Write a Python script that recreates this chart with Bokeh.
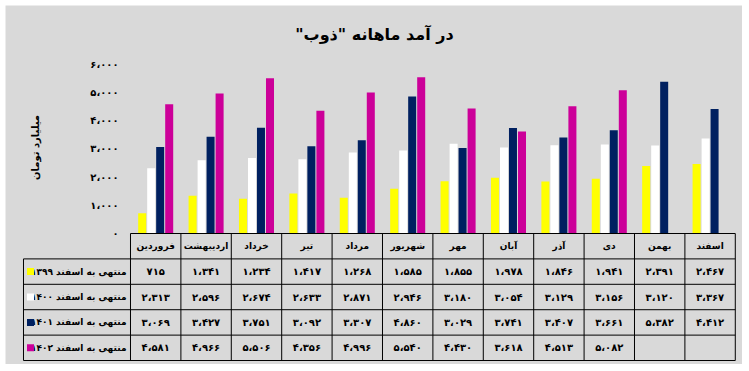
from math import pi
from bokeh.plotting import figure
from bokeh.models import Range1d
from bokeh.core.properties import value
from bokeh.embed import file_html
from bokeh.resources import INLINE

# ---------------- data ----------------
months = ["فروردین", "اردیبهشت", "خرداد", "تیر", "مرداد", "شهریور",
          "مهر", "آبان", "آذر", "دی", "بهمن", "اسفند"]
series_names = ["منتهی به اسفند ۱۳۹۹", "منتهی به اسفند ۱۴۰۰",
                "منتهی به اسفند ۱۴۰۱", "منتهی به اسفند ۱۴۰۲"]
s1399 = [715, 1341, 1234, 1417, 1268, 1585, 1855, 1978, 1846, 1941, 2391, 2467]
s1400 = [2313, 2596, 2674, 2633, 2871, 2946, 3180, 3054, 3129, 3156, 3120, 3367]
s1401 = [3069, 3427, 3751, 3092, 3307, 4860, 3029, 3741, 3407, 3661, 5382, 4412]
s1402 = [4581, 4966, 5506, 4356, 4996, 5540, 4430, 3618, 4513, 5082, None, None]
y_ticks = [0, 1000, 2000, 3000, 4000, 5000, 6000]
y_tick_labels = ["۰", "۱،۰۰۰", "۲،۰۰۰", "۳،۰۰۰", "۴،۰۰۰", "۵،۰۰۰", "۶،۰۰۰"]
title_text = "\u200fدر آمد ماهانه \"ذوب\"\u200f"
y_title = "میلیارد تومان"

series = [s1399, s1400, s1401, s1402]
colors = ["#ffff00", "#ffffff", "#002060", "#cc0099"]

FONT = value("DejaVu Sans")
BG = "#d9d9d9"
FA = str.maketrans("0123456789", "۰۱۲۳۴۵۶۷۸۹")


def fa(n):
    return f"{n:,}".replace(",", "،").translate(FA)


# x: one unit per month column; y: revenue units (chart) and row units (table)
p = figure(width=737, height=359,
           x_range=Range1d(-2.480, 12.143), y_range=Range1d(-4645, 8085),
           x_axis_type=None, y_axis_type=None,
           output_backend="svg", toolbar_location=None,
           min_border_left=0, min_border_right=0,
           min_border_top=0, min_border_bottom=0,
           background_fill_color=BG, border_fill_color=BG,
           outline_line_color=None, margin=(5, 6, 6, 5))
p.xgrid.visible = False
p.ygrid.visible = False
p.extra_y_ranges = {"table": Range1d(start=5.157, end=-8.976)}

# ---------------- bars ----------------
offsets = [-0.268, -0.089, 0.089, 0.268]
for s, c, off in zip(series, colors, offsets):
    xs = [i + 0.5 + off for i, v in enumerate(s) if v is not None]
    tops = [v for v in s if v is not None]
    p.vbar(x=xs, top=tops, bottom=0, width=0.159, fill_color=c, line_color=None)

# ---------------- y axis labels ----------------
p.text(x=[-0.238] * len(y_ticks), y=y_ticks, text=y_tick_labels,
       text_align="right", text_baseline="middle", text_font=FONT,
       text_font_style="bold", text_font_size="10px", text_color="black")
p.text(x=[-1.885], y=[3050], text=[y_title], angle=pi / 2,
       text_align="center", text_baseline="middle", text_font=FONT,
       text_font_style="bold", text_font_size="10px", text_color="black")

# ---------------- title ----------------
p.text(x=[4.84], y=[7050], text=[title_text], text_align="center",
       text_baseline="middle", text_font=FONT, text_font_style="bold",
       text_font_size="16px", text_color="black")

# ---------------- table ----------------
LX = -2.123
nrows = len(series)
ncols = len(months)
hy = list(range(nrows + 2))
p.segment(x0=[0] + [LX] * (nrows + 1), x1=[ncols] * (nrows + 2), y0=hy, y1=hy,
          line_color="black", line_width=1, y_range_name="table")
vx = list(range(ncols + 1))
p.segment(x0=vx, x1=vx, y0=[0] * len(vx), y1=[nrows + 1] * len(vx),
          line_color="black", line_width=1, y_range_name="table")
p.segment(x0=[LX], x1=[LX], y0=[1], y1=[nrows + 1],
          line_color="black", line_width=1, y_range_name="table")

p.text(x=[i + 0.5 for i in range(ncols)], y=[0.5] * ncols, text=months,
       text_align="center", text_baseline="middle", text_font=FONT,
       text_font_style="bold", text_font_size="9px", text_color="black",
       y_range_name="table")

for r, (s, name, c) in enumerate(zip(series, series_names, colors)):
    xs = [i + 0.5 for i, v in enumerate(s) if v is not None]
    txt = [fa(v) for v in s if v is not None]
    p.text(x=xs, y=[r + 1.5] * len(xs), text=txt, text_align="center",
           text_baseline="middle", text_font=FONT,
           text_font_style="bold", text_font_size="10px", text_color="black",
           y_range_name="table")
    p.text(x=[-0.08], y=[r + 1.5], text=[name], text_align="right",
           text_baseline="middle", text_font=FONT,
           text_font_style="bold", text_font_size="9px", text_color="black",
           y_range_name="table")
    p.scatter(x=[-1.984], y=[r + 1.5], marker="square", size=7,
              fill_color=c, line_color=None, y_range_name="table")

open("out.html", "w").write(file_html(p, INLINE))
